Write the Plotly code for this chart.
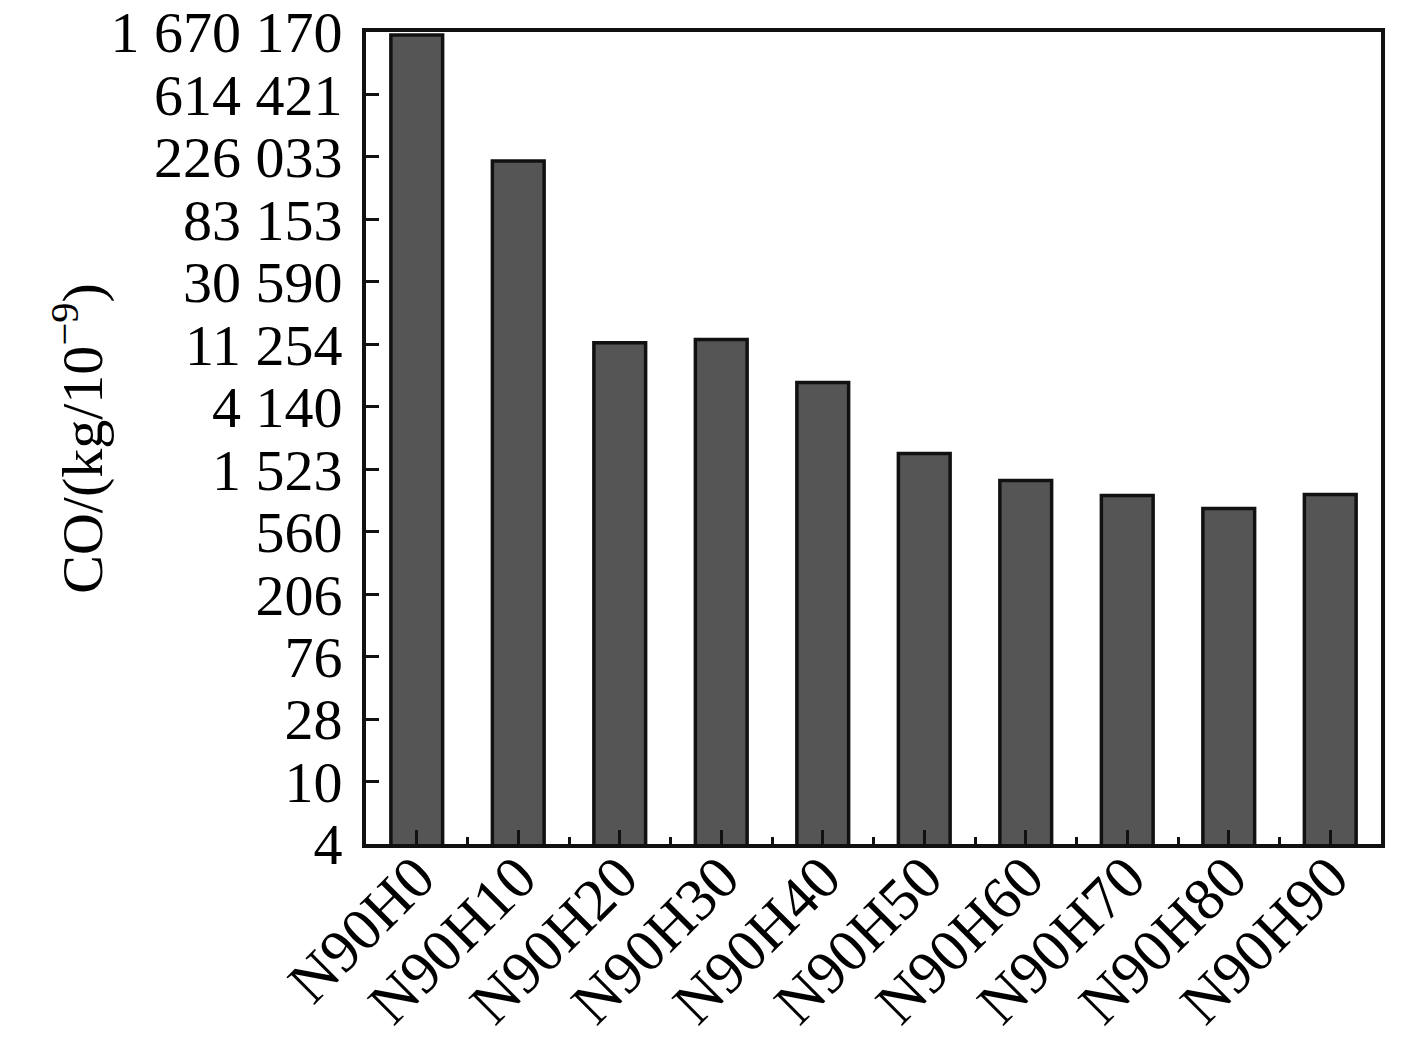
"""Log-scale bar chart of CO emission per blend."""
import plotly.graph_objects as go

CATEGORIES = ["N90H0", "N90H10", "N90H20", "N90H30", "N90H40",
              "N90H50", "N90H60", "N90H70", "N90H80", "N90H90"]
CO_VALUES = [1590000, 212000, 11560, 12130, 6100, 1960, 1272, 1001, 813, 1017]

# tick positions (natural-log spaced) and their printed labels
TICK_VALUES = [3.775, 10.26, 27.9, 75.8, 206, 560, 1523, 4140, 11254,
               30590, 83153, 226033, 614421, 1670170]
TICK_LABELS = ["4", "10", "28", "76", "206", "560", "1 523", "4 140", "11 254",
               "30 590", "83 153", "226 033", "614 421", "1 670 170"]

FONT = "Liberation Serif, Times New Roman, serif"

fig = go.Figure()
fig.add_trace(go.Bar(
    x=CATEGORIES, y=CO_VALUES, width=0.51,
    marker={"color": "#555555", "line": {"color": "#111111", "width": 3.5}},
    showlegend=False,
))
# invisible trace so the overlay axis can draw ticks on category boundaries
fig.add_trace(go.Scatter(
    x=CATEGORIES, y=CO_VALUES, xaxis="x2", mode="markers",
    marker={"opacity": 0}, showlegend=False, hoverinfo="skip",
))

# page body has an 8px margin, so the figure starts 8px in from the corner
fig.update_layout(
    width=1409, height=1034,
    paper_bgcolor="white", plot_bgcolor="white",
    margin={"l": 358, "r": 36, "t": 24, "b": 198},
    font={"family": FONT, "size": 58, "color": "black"},
    bargap=0.49,
    xaxis={
        "type": "category", "categoryorder": "array", "categoryarray": CATEGORIES,
        "range": [-0.5, 9.5], "automargin": False,
        "tickangle": -45, "ticks": "inside", "ticklen": 14, "tickwidth": 3,
        "tickcolor": "#111111", "ticklabelstandoff": -30,
        "ticklabeloverflow": "allow",
        "showline": True, "linecolor": "#111111", "linewidth": 4, "mirror": True,
        "showgrid": False, "zeroline": False,
        "tickfont": {"size": 60},
    },
    xaxis2={
        "type": "category", "categoryorder": "array", "categoryarray": CATEGORIES,
        "overlaying": "x", "matches": "x", "side": "bottom",
        "tickson": "boundaries", "ticks": "inside", "ticklen": 7, "tickwidth": 3,
        "tickcolor": "#111111", "showticklabels": False,
        "showline": False, "showgrid": False, "zeroline": False,
    },
    yaxis={
        "type": "log", "automargin": False,
        "range": [0.5769, 6.2228],
        "tickmode": "array", "tickvals": TICK_VALUES, "ticktext": TICK_LABELS,
        "ticks": "inside", "ticklen": 13, "tickwidth": 3, "tickcolor": "#111111",
        "ticklabelstandoff": 8, "ticklabeloverflow": "allow",
        "showline": True, "linecolor": "#111111", "linewidth": 4, "mirror": True,
        "showgrid": False, "zeroline": False,
        "tickfont": {"size": 58},
    },
    annotations=[{
        "text": "CO/(kg/10<sup>−9</sup>)", "textangle": -90,
        "xref": "paper", "yref": "paper", "x": -0.284, "y": 0.5,
        "xanchor": "center", "yanchor": "middle", "showarrow": False,
        "font": {"size": 58},
    }],
)

fig.write_html("out.html")
